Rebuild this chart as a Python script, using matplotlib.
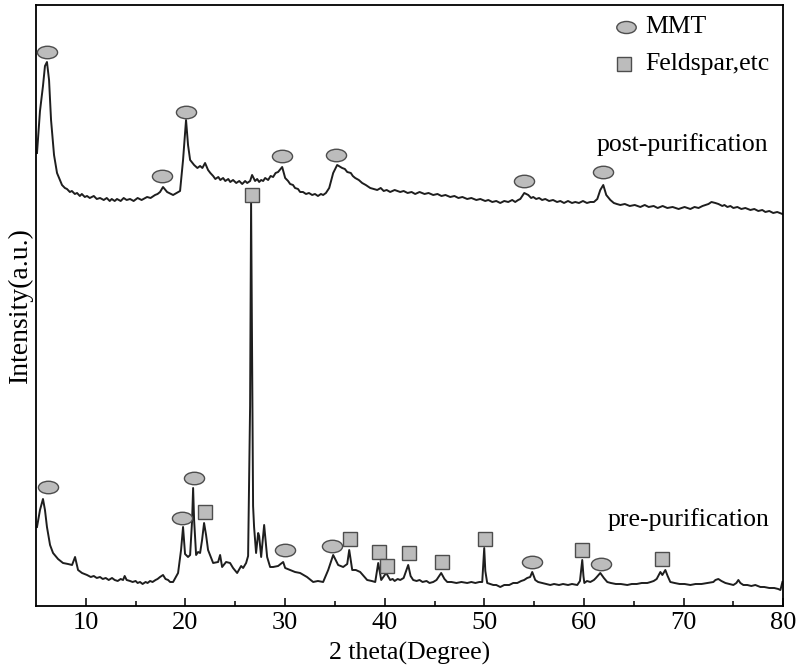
import matplotlib
matplotlib.use("Agg")
import matplotlib.pyplot as plt
from matplotlib.path import Path
from matplotlib.transforms import Affine2D

plt.rcParams['font.family'] = ['Liberation Serif', 'DejaVu Serif']

# traced XRD patterns (2 theta in degrees, intensity in arbitrary units)
post_theta = [5.10, 5.40, 5.70, 5.90, 6.10, 6.31, 6.51, 6.81, 7.11,
              7.61, 7.9, 8.11, 8.4, 8.6, 8.9, 9.12, 9.4, 9.6, 9.9, 10.12, 10.4, 10.8, 11.1, 11.43,
              11.8, 12.1, 12.4, 12.6, 12.9, 13.13, 13.5, 13.8, 14.1, 14.44, 14.8, 15.2, 15.6, 16.15,
              16.5, 16.95, 17.2, 17.45, 17.75, 18.16, 18.76, 19.46, 19.76, 20.06, 20.26, 20.47,
              20.87, 21.2, 21.47, 21.7, 21.97, 22.1, 22.27, 22.5, 22.78, 23.0, 23.30, 23.5, 23.78,
              24.0, 24.30, 24.5, 24.78, 25.1, 25.40, 25.7, 25.99, 26.2, 26.49, 26.69, 26.99, 27.2,
              27.40, 27.6, 27.80, 28.0, 28.30, 28.55, 28.80, 29.05, 29.30, 29.71,
              30.01, 30.3, 30.51, 30.8, 31.0, 31.3, 31.51, 31.8, 32.10, 32.4, 32.72, 33.0, 33.30,
              33.6, 33.82, 34.1, 34.43, 34.83, 35.23,
              35.73, 36.0, 36.24, 36.6, 36.8, 37.04, 37.4, 37.74, 38.1, 38.55, 38.9, 39.25, 39.6,
              39.90, 40.2, 40.55, 41.0, 41.56, 41.9, 42.30, 42.7, 43.06, 43.5, 44.00, 44.4, 44.87,
              45.3, 45.70, 46.1, 46.58, 47.0, 47.40, 47.8, 48.28, 48.7, 49.20, 49.6, 50.09, 50.4,
              50.80, 51.2, 51.60, 52.0, 52.40, 52.8, 53.10, 53.4, 53.61, 54.01,
              54.41, 54.7, 54.91, 55.2, 55.50, 55.8, 56.12, 56.5, 56.90, 57.3, 57.63, 58.0, 58.40,
              58.8, 59.13, 59.5, 59.90, 60.3, 60.64, 61.0, 61.34, 61.64, 61.94, 62.24,
              62.65, 63.0, 63.3, 63.65, 64.1, 64.60, 65.1, 65.66, 66.1, 66.50, 67.0, 67.40, 67.9,
              68.37, 68.9, 69.50, 70.1, 70.68, 71.1, 71.50, 71.9, 72.19, 72.5, 72.80, 73.19, 73.5,
              73.89, 74.1, 74.40, 74.7, 75.00, 75.4, 75.80, 76.2, 76.71, 77.1, 77.50, 77.9, 78.21,
              78.6, 79.00, 79.4, 79.92]
post_int = [453, 495, 520, 540, 544, 526, 486, 451, 433,
            421, 418, 417, 414, 415, 412, 413, 410, 412, 409, 410, 408, 410, 407, 408,
            406, 408, 405, 407, 405, 407, 405, 408, 406, 407, 405, 408, 406, 409,
            408, 411, 412, 414, 419, 414, 411, 415, 446, 486, 461, 446,
            441, 438, 440, 438, 443, 440, 436, 433, 430, 427, 429, 426, 428,
            425, 427, 424, 426, 423, 425, 422, 425, 423, 425, 431, 425, 427,
            424, 426, 425, 428, 426, 430, 429, 433, 434, 439,
            428, 425, 422, 421, 418, 417, 414, 414, 412, 413, 411, 412, 410,
            412, 411, 413, 418, 433, 441,
            438, 437, 434, 433, 430, 428, 426, 423, 421, 418, 417, 416, 418,
            415, 416, 414, 416, 414, 415, 413, 414, 412, 414, 412, 413, 411,
            412, 410, 411, 409, 410, 408, 409, 407, 408, 406, 407, 405, 406,
            404, 405, 403, 405, 404, 406, 404, 406, 407, 413,
            411, 408, 409, 407, 408, 406, 407, 405, 406, 404, 405, 403, 405,
            403, 404, 403, 405, 403, 404, 404, 407, 416, 421, 411,
            406, 403, 402, 401, 402, 400, 401, 399, 401, 399, 400, 398, 400,
            398, 399, 397, 399, 397, 399, 398, 400, 401, 402, 404, 403, 402,
            400, 401, 399, 400, 398, 399, 397, 398, 396, 397, 395, 396, 394,
            395, 393, 394, 392]

pre_theta = [5.10, 5.40, 5.70, 5.90, 6.10, 6.41, 6.71, 7.21, 7.71, 8.21, 8.62, 8.92, 9.22, 9.62,
             10.12, 10.5, 10.80, 11.1, 11.43, 11.7, 12.00, 12.3, 12.63, 12.9, 13.20, 13.5, 13.74,
             13.90, 14.1, 14.44, 14.7, 15.00, 15.2, 15.44, 15.7, 16.00, 16.2, 16.45, 16.7, 17.00,
             17.2, 17.45, 17.75, 18.0, 18.26, 18.46, 18.76, 19.26, 19.56, 19.76, 19.96, 20.26,
             20.47, 20.67, 20.77, 20.87, 21.07, 21.27, 21.47, 21.67, 21.87, 22.07, 22.27, 22.78,
             23.28, 23.48, 23.68, 24.08, 24.48, 24.78, 25.19, 25.59, 25.79, 26.09, 26.29, 26.49,
             26.59, 26.69, 26.79, 26.89, 27.09, 27.30, 27.40, 27.60, 27.90, 28.20, 28.50, 28.80,
             29.30, 29.81, 30.01, 30.51, 31.00, 31.51, 32.20, 32.82, 33.30, 33.82, 34.33, 34.83,
             35.33, 35.83, 36.24, 36.44, 36.74, 37.10, 37.54, 38.24, 38.70, 39.05, 39.35, 39.65,
             40.15, 40.55, 40.8, 41.00, 41.3, 41.56, 41.9, 42.36, 42.6, 42.86, 43.2, 43.50, 43.8,
             44.20, 44.5, 44.87, 45.2, 45.67, 46.0, 46.28, 46.7, 47.20, 47.7, 48.28, 48.7, 49.10,
             49.5, 49.79, 49.99, 50.1, 50.29, 50.6, 50.90, 51.2, 51.60, 52.0, 52.50, 52.9, 53.31,
             53.7, 54.00, 54.3, 54.6, 54.81, 55.11, 55.4, 55.80, 56.2, 56.62, 57.0, 57.50, 57.9,
             58.40, 58.8, 59.33, 59.6, 59.83, 59.95, 60.04, 60.3, 60.64, 61.0, 61.20, 61.64, 62.0,
             62.34, 62.7, 63.20, 63.7, 64.35, 64.8, 65.30, 65.8, 66.36, 66.7, 67.00, 67.3, 67.67,
             67.87, 68.17, 68.4, 68.67, 69.1, 69.60, 70.1, 70.68, 71.2, 71.80, 72.4, 72.99, 73.2,
             73.49, 73.8, 74.20, 74.6, 75.00, 75.3, 75.50, 75.7, 76.00, 76.4, 76.80, 77.2, 77.71,
             78.1, 78.60, 79.1, 79.5, 79.72, 79.92]
pre_int = [79, 96, 107, 96, 79, 61, 53, 47, 43, 42, 41, 49, 36, 33,
           31, 29, 30, 28, 29, 27, 28, 26, 28, 26, 25, 27, 26,
           30, 26, 25, 24, 25, 23, 24, 22, 24, 23, 25, 24, 26,
           27, 29, 31, 27, 26, 24, 24, 33, 56, 79, 52, 49,
           51, 86, 118, 86, 51, 54, 53, 66, 83, 71, 56, 43,
           44, 51, 39, 44, 43, 38, 33, 40, 38, 43, 50, 200,
           404, 250, 100, 79, 53, 73, 70, 49, 81, 49, 39, 39,
           40, 44, 38, 36, 34, 33, 29, 24, 25, 24, 36, 51,
           41, 39, 42, 56, 36, 36, 34, 26, 25, 24, 43, 26,
           33, 26, 27, 25, 27, 26, 28, 41, 30, 26, 25, 26, 24,
           25, 23, 24, 26, 33, 27, 24, 24, 23, 24, 23, 24, 23,
           24, 24, 58, 35, 23, 22, 21, 21, 19, 21, 21, 23, 23,
           25, 26, 28, 29, 34, 26, 24, 23, 22, 21, 22, 21, 22,
           21, 22, 21, 25, 46, 30, 23, 25, 24, 26, 28, 33, 28,
           24, 23, 22, 22, 21, 22, 22, 23, 23, 24, 25, 27, 34,
           31, 36, 30, 24, 23, 22, 22, 21, 22, 22, 23, 24, 26,
           27, 25, 23, 22, 21, 23, 26, 23, 21, 21, 20, 21, 19,
           19, 18, 18, 17, 16, 24]

# peak annotations
post_mmt_theta = [6.10, 17.65, 20.06, 29.71, 35.13, 54.01, 61.94]
post_mmt_int = [554, 430, 494, 450, 451, 425, 434]
pre_mmt_theta = [6.21, 19.66, 20.87, 30.01, 34.73, 54.81, 61.74]
pre_mmt_int = [119, 88, 128, 56, 60, 44, 42]
pre_fel_theta = [26.69, 21.97, 36.54, 39.45, 40.25, 42.46, 45.77, 50.09, 59.83, 67.87]
pre_fel_int = [411, 94, 67, 54, 40, 53, 44, 67, 56, 47]

ellipse = Path.unit_circle().transformed(Affine2D().scale(1.0, 0.62))
face = '#bcbcbc'
edge = '#4d4d4d'

fig = plt.figure(figsize=(8, 6.66), dpi=100)
ax = fig.add_axes([0.045, 0.0901, 0.934, 0.9024])

ax.plot(post_theta, post_int, color='#1e1e1e', lw=1.4)
ax.plot(pre_theta, pre_int, color='#1e1e1e', lw=1.4)

mmt_x = post_mmt_theta + pre_mmt_theta
mmt_y = post_mmt_int + pre_mmt_int
ax.plot(mmt_x, mmt_y, ls='none', marker=ellipse, ms=14.5, mfc=face, mec=edge, mew=1.0, zorder=3)
ax.plot(pre_fel_theta, pre_fel_int, ls='none', marker='s', ms=9.4, mfc=face, mec=edge, mew=1.0, zorder=3)

# legend
ax.plot([0.790], [0.963], transform=ax.transAxes, ls='none', marker=ellipse, ms=14,
        mfc=face, mec=edge, mew=1.0)
ax.plot([0.787], [0.902], transform=ax.transAxes, ls='none', marker='s', ms=9.4,
        mfc=face, mec=edge, mew=1.0)
ax.text(0.816, 0.963, 'MMT', transform=ax.transAxes, fontsize=18.5, va='center', ha='left')
ax.text(0.816, 0.902, 'Feldspar,etc', transform=ax.transAxes, fontsize=18.5, va='center', ha='left')

ax.text(61.3, 461, 'post-purification', fontsize=18.5, va='center', ha='left')
ax.text(62.4, 86, 'pre-purification', fontsize=18.5, va='center', ha='left')

ax.set_xlim(5, 80)
ax.set_ylim(0, 601)
ax.set_xticks([10, 20, 30, 40, 50, 60, 70, 80])
ax.set_xticks([15, 25, 35, 45, 55, 65, 75], minor=True)
ax.set_yticks([])
ax.tick_params(axis='x', direction='in', length=6, width=1.1, labelsize=19, pad=4)
ax.tick_params(axis='x', which='minor', direction='in', length=3.5, width=1.1)
for s in ax.spines.values():
    s.set_linewidth(1.3)

ax.set_xlabel('2 theta(Degree)', fontsize=18.5, labelpad=6)
ax.set_ylabel('Intensity(a.u.)', fontsize=20, labelpad=2)

fig.savefig('out.png', dpi=100)
